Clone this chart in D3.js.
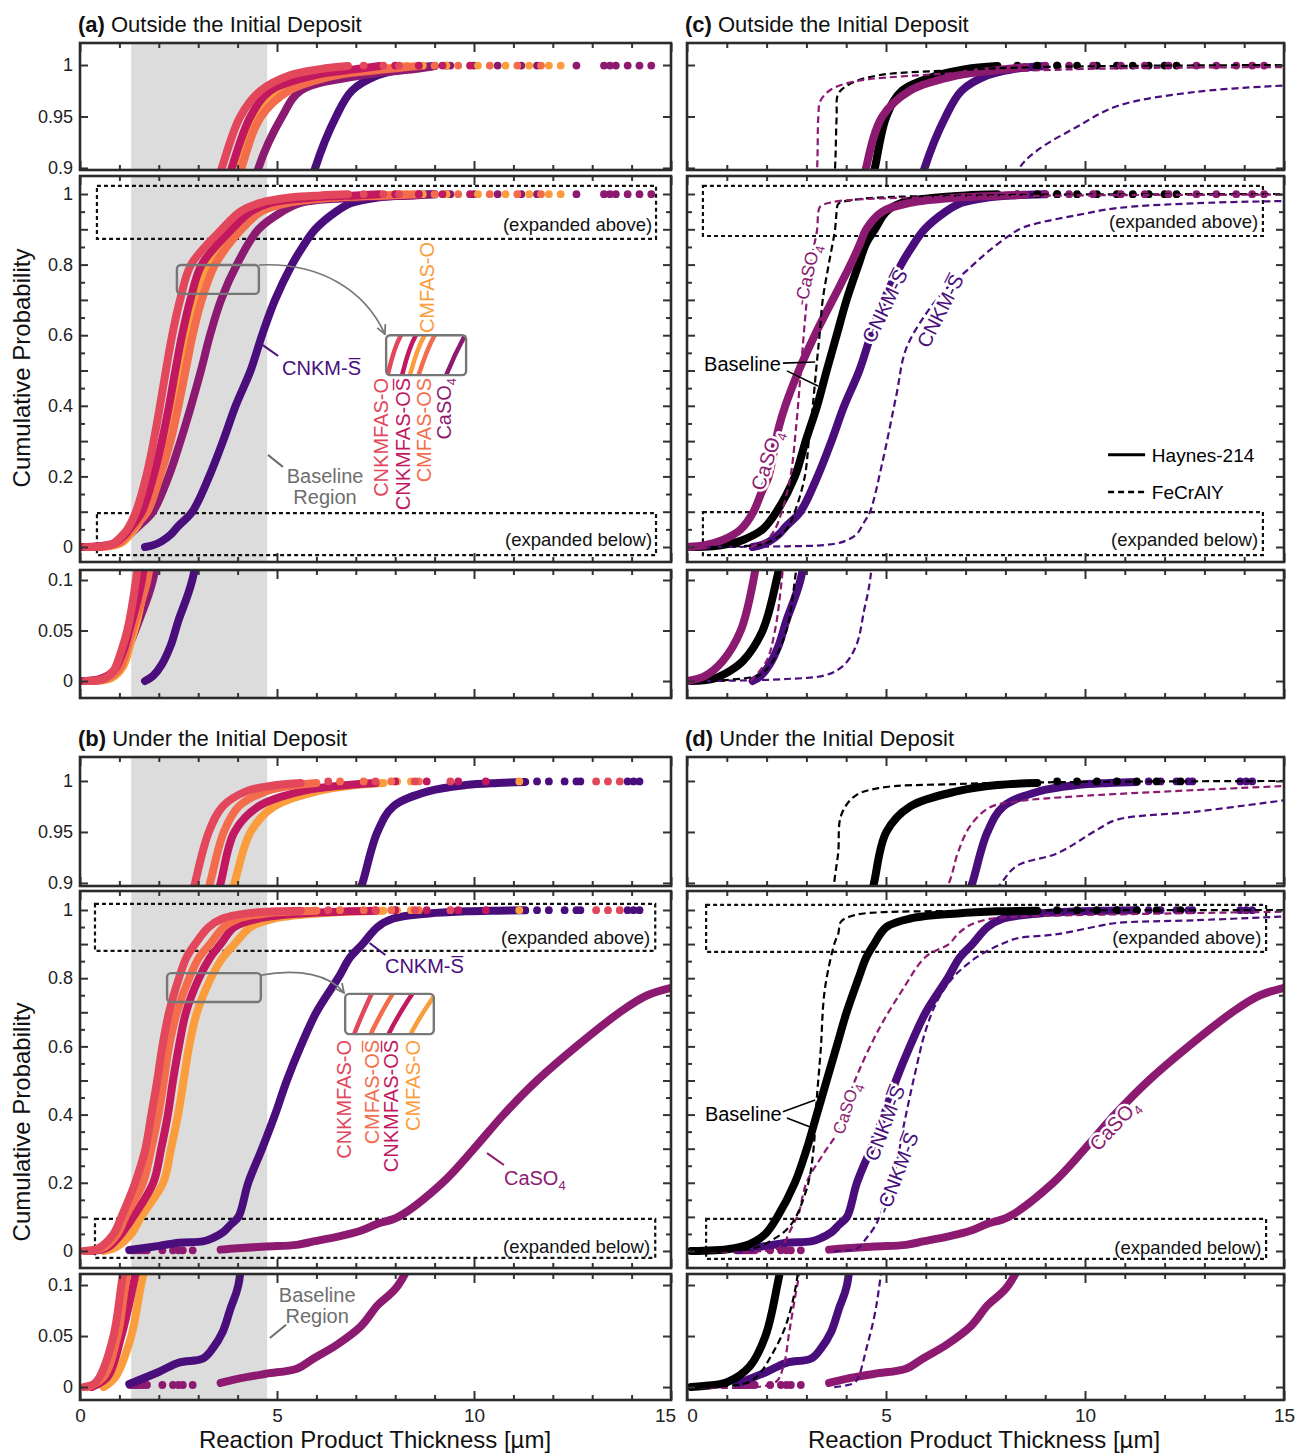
<!DOCTYPE html>
<html>
<head>
<meta charset="utf-8">
<script src="https://cdn.jsdelivr.net/npm/d3@7"></script>
<style>
  body { margin: 0; background: #fff; }
  svg text { font-family: "Liberation Sans", Arial, sans-serif; }
</style>
</head>
<body>
<svg id="chart" width="1295" height="1454"></svg>
<script>
// ---------- values ----------
// every curve is [thickness (µm), cumulative probability]
const xTicks = d3.range(0, 16);
const yTicksTop = [0.9, 0.95, 1];
const yTicksMid = d3.range(0, 21).map(i => i / 20);
const yLabelsMid = [0, 0.2, 0.4, 0.6, 0.8, 1];
const yTicksBot = [0, 0.05, 0.1];
const grayRegion = [1.3, 4.75];

// (a) outside the deposit
const aCNKMFAS_O = [[0.15,0],[0.6,0.002],[0.85,0.01],[1.05,0.03],[1.2,0.05],[1.42,0.1],[1.68,0.2],[1.87,0.3],[2.03,0.4],[2.18,0.5],[2.34,0.6],[2.54,0.7],[2.82,0.8],[3.6,0.9],[4.07,0.95],[4.58,0.975],[5.33,0.99],[6.1,0.996],[6.8,0.999]];
const aCNKMFAS_OTail = [7.2, 7.7, 8.1];
const aCNKMFAS_OS = [[0,0],[0.5,0.002],[0.85,0.01],[1.1,0.03],[1.25,0.05],[1.57,0.1],[1.86,0.2],[2.08,0.3],[2.26,0.4],[2.42,0.5],[2.59,0.6],[2.8,0.7],[3.09,0.8],[3.85,0.9],[4.33,0.95],[4.83,0.975],[5.94,0.99],[7.0,0.996],[7.6,0.999]];
const aCNKMFAS_OSTail = [8.0, 8.6, 9.2, 9.9];
const aCMFAS_O = [[0.4,0],[0.8,0.003],[1.1,0.015],[1.3,0.04],[1.45,0.06],[1.65,0.1],[1.95,0.2],[2.2,0.3],[2.4,0.4],[2.56,0.5],[2.73,0.6],[2.94,0.7],[3.25,0.8],[4.05,0.9],[4.53,0.95],[5.13,0.975],[6.35,0.99],[7.6,0.996],[8.3,0.999]];
const aCMFAS_OTail = [8.7, 9.3, 10.1, 10.8, 11.4, 11.9, 12.2];
const aCMFAS_OS = [[0.3,0],[0.7,0.003],[1.0,0.012],[1.25,0.04],[1.4,0.06],[1.71,0.1],[2.03,0.2],[2.3,0.3],[2.5,0.4],[2.68,0.5],[2.86,0.6],[3.09,0.7],[3.43,0.8],[4.1,0.9],[4.6,0.95],[5.3,0.975],[6.5,0.99],[7.8,0.996],[8.6,0.999]];
const aCMFAS_OSTail = [9.0, 9.6, 10.4, 11.1, 11.7];
const aCaSO4 = [[0.2,0],[0.6,0.002],[1.0,0.012],[1.3,0.04],[1.5,0.06],[1.85,0.1],[2.25,0.2],[2.55,0.3],[2.82,0.4],[3.07,0.5],[3.3,0.6],[3.58,0.7],[3.98,0.8],[4.53,0.9],[5.13,0.95],[5.6,0.975],[7.15,0.99],[8.5,0.996],[9.0,0.999]];
const aCaSO4Tail = [9.4, 10.0, 10.6, 11.2, 11.6, 12.6, 13.3, 13.45, 13.6, 13.9, 14.2, 14.5];
const outCNKM = [[1.65,0],[1.85,0.005],[2.07,0.016],[2.3,0.035],[2.49,0.059],[2.85,0.1],[3.28,0.2],[3.63,0.3],[3.95,0.4],[4.33,0.5],[4.62,0.6],[4.95,0.7],[5.38,0.8],[5.65,0.85],[5.97,0.9],[6.5,0.95],[6.9,0.975],[7.55,0.99],[8.2,0.996],[9.0,0.999]];
const outCNKMTail = [9.3];

// (c) outside the deposit, Haynes-214 (solid) vs FeCrAlY (dashed)
const cBaseline = [[0.1,0],[0.65,0.002],[1.08,0.01],[1.41,0.02],[1.9,0.05],[2.25,0.1],[2.71,0.2],[2.98,0.3],[3.27,0.4],[3.51,0.5],[3.76,0.6],[4.01,0.7],[4.31,0.8],[4.5,0.86],[4.72,0.9],[5.01,0.95],[5.4,0.975],[6.3,0.99],[7.0,0.996],[7.8,0.999]];
const cBaselineTail = [8.3, 8.8, 9.3, 9.8, 10.3, 10.8, 11.2, 11.6, 12.0, 12.3];
const cCaSO4 = [[0,0],[0.45,0.005],[0.9,0.02],[1.35,0.05],[1.67,0.1],[1.88,0.157],[2.05,0.2],[2.3,0.336],[2.47,0.4],[2.81,0.5],[3.21,0.6],[3.66,0.7],[4.11,0.8],[4.35,0.86],[4.5,0.9],[4.91,0.95],[5.6,0.975],[6.8,0.99],[7.8,0.995],[8.5,0.998]];
const cCaSO4Tail = [9.0, 9.6, 10.2, 10.9, 11.5, 12.1, 12.8, 13.3, 13.8, 14.2, 14.5];
const cBaselineFe = [[0.6,0],[1.5,0.003],[1.83,0.006],[2.16,0.02],[2.5,0.05],[2.71,0.1],[2.96,0.2],[3.06,0.3],[3.16,0.4],[3.26,0.52],[3.33,0.6],[3.41,0.7],[3.56,0.8],[3.72,0.9],[3.76,0.95],[3.8,0.972],[4.11,0.982],[4.81,0.99],[6.8,0.995],[8.8,0.998],[15,1.0]];
const cCaSO4Fe = [[1.6,0],[2.0,0.02],[2.21,0.05],[2.38,0.1],[2.6,0.2],[2.75,0.35],[2.86,0.5],[2.97,0.65],[3.1,0.8],[3.27,0.9],[3.3,0.95],[3.35,0.965],[3.61,0.976],[4.21,0.984],[5.8,0.99],[7.8,0.9935],[10.8,0.9968],[15,0.998]];
const cCNKMFe = [[0.5,0],[2.5,0.002],[3.5,0.006],[3.95,0.016],[4.26,0.036],[4.45,0.07],[4.6,0.1],[4.91,0.24],[5.26,0.43],[5.5,0.56],[6.0,0.66],[6.5,0.73],[7.0,0.78],[7.6,0.84],[8.35,0.9],[8.8,0.917],[9.8,0.94],[10.8,0.96],[12.8,0.974],[15,0.98]];

// (b) under the deposit
const bCNKMFAS_O = [[0.1,0],[0.35,0.003],[0.5,0.01],[0.85,0.05],[1.05,0.1],[1.4,0.2],[1.66,0.3],[1.81,0.4],[1.96,0.5],[2.09,0.6],[2.26,0.7],[2.51,0.8],[2.7,0.86],[2.92,0.9],[3.27,0.95],[3.62,0.975],[4.23,0.99],[5.0,0.996],[5.6,0.998]];
const bCNKMFAS_OTail = [6.3, 7.5, 8.5, 9.4, 13.1, 13.4, 13.7];
const bCMFAS_OS = [[0.2,0],[0.6,0.01],[0.95,0.05],[1.15,0.1],[1.6,0.2],[1.81,0.3],[1.99,0.4],[2.13,0.5],[2.26,0.6],[2.46,0.7],[2.77,0.8],[3.02,0.86],[3.3,0.9],[3.65,0.95],[4.03,0.975],[4.73,0.99],[5.5,0.996],[6.0,0.998]];
const bCMFAS_OSTail = [6.6, 7.2, 7.9, 8.6];
const bCNKMFAS_OS = [[0.3,0],[0.7,0.01],[1.05,0.05],[1.35,0.1],[1.86,0.2],[2.06,0.3],[2.23,0.4],[2.36,0.5],[2.51,0.6],[2.69,0.7],[3.02,0.8],[3.3,0.86],[3.57,0.9],[3.92,0.95],[4.53,0.975],[5.63,0.99],[6.8,0.996],[7.5,0.998]];
const bCNKMFAS_OSTail = [8.0, 8.8, 9.6, 10.3];
const bCMFAS_O = [[0.6,0],[0.9,0.01],[1.3,0.05],[1.55,0.1],[2.11,0.2],[2.31,0.3],[2.49,0.4],[2.63,0.5],[2.77,0.6],[2.97,0.7],[3.32,0.8],[3.62,0.86],[3.92,0.9],[4.33,0.95],[4.93,0.975],[6.04,0.99],[7.0,0.996],[7.7,0.998]];
const bCMFAS_OTail = [8.05, 8.4, 11.15];
const underCNKM = [[1.25,0.003],[2.01,0.015],[2.51,0.024],[3.12,0.028],[3.37,0.038],[3.62,0.054],[3.82,0.077],[4.02,0.1],[4.27,0.2],[4.62,0.3],[4.95,0.4],[5.25,0.5],[5.6,0.6],[6.0,0.7],[6.55,0.8],[6.85,0.86],[7.17,0.9],[7.55,0.95],[7.95,0.975],[8.86,0.99],[9.8,0.996],[10.6,0.998],[11.3,0.999]];
const underCNKMTail = [11.6, 11.9, 12.3, 12.6, 12.7, 13.9, 14.05, 14.2];
const underCaSO4 = [[3.57,0.004],[4.0,0.008],[4.72,0.013],[5.5,0.018],[5.93,0.028],[6.54,0.042],[7.14,0.06],[7.55,0.08],[8.08,0.1],[9.2,0.2],[10.0,0.3],[10.75,0.4],[11.6,0.5],[12.6,0.6],[13.7,0.7],[14.4,0.75],[15.3,0.78]];
const underCaSO4Low = [1.27, 1.33, 1.4, 1.47, 1.54, 1.62, 1.7, 2.09, 2.36, 2.5, 2.61, 2.86];

// (d) under the deposit, Haynes-214 (solid) vs FeCrAlY (dashed)
const dBaseline = [[0.1,0],[0.42,0.001],[1.02,0.005],[1.57,0.02],[1.97,0.05],[2.27,0.1],[2.71,0.2],[3.01,0.3],[3.26,0.4],[3.51,0.5],[3.76,0.6],[4.01,0.7],[4.31,0.8],[4.5,0.86],[4.7,0.9],[5.01,0.95],[5.61,0.975],[6.8,0.99],[7.8,0.996],[8.8,0.998]];
const dBaselineTail = [9.3, 9.8, 10.3, 10.8, 11.3, 11.8, 12.4];
const dBaselineFe = [[0.3,0],[1.5,0.004],[1.82,0.013],[2.12,0.031],[2.42,0.054],[2.61,0.077],[2.76,0.105],[3.05,0.2],[3.18,0.3],[3.25,0.43],[3.36,0.59],[3.46,0.765],[3.7,0.9],[3.8,0.93],[3.87,0.966],[4.21,0.985],[4.81,0.993],[6.8,0.997],[9.8,0.999],[15,1.0]];
const dCaSO4Fe = [[0.3,0],[2.2,0.004],[2.42,0.02],[2.57,0.054],[2.71,0.087],[2.8,0.107],[3.0,0.2],[3.4,0.28],[3.81,0.355],[4.21,0.497],[4.81,0.648],[5.41,0.765],[6.0,0.863],[6.58,0.9],[6.8,0.929],[7.1,0.955],[7.6,0.974],[8.3,0.98],[9.8,0.985],[15,0.995]];
const dCNKMFe = [[3.7,0],[4.2,0.004],[4.31,0.01],[4.51,0.038],[4.71,0.07],[4.86,0.107],[5.21,0.228],[5.45,0.37],[5.71,0.511],[6.0,0.648],[6.3,0.736],[6.7,0.804],[7.3,0.863],[7.9,0.9],[8.3,0.917],[9.3,0.929],[10.3,0.952],[10.8,0.962],[12.8,0.97],[15,0.981]];

// ---------- colours ----------
const cRed = "#e2475b", cCrimson = "#c2185f", cCoral = "#f36d4d", cOrange = "#fb9d3c";
const cCa = "#8c1a70", cCNKM = "#4a0e7c", cBlack = "#000", cGrey = "#6e6e6e";

// ---------- layout ----------
const colL = [80, 671], colR = [687, 1284];
const rowsUpper = { top: [43, 170], mid: [176, 562], bot: [570, 698] };
const rowsLower = { top: [757, 886], mid: [891, 1268], bot: [1274, 1400] };
const domUpper = { top: [0.898, 1.0214], mid: [-0.0425, 1.051], bot: [-0.0168, 0.1099] };
const domLower = { top: [0.897, 1.0235], mid: [-0.0499, 1.0557], bot: [-0.0127, 0.1108] };
const fmt = d3.format("~g");

const svg = d3.select("#chart");
const defs = svg.append("defs");
defs.append("marker").attr("id", "arrowhead").attr("viewBox", "0 0 10 10")
    .attr("refX", 9).attr("refY", 5).attr("markerWidth", 7).attr("markerHeight", 7).attr("orient", "auto")
  .append("path").attr("d", "M1,1 L9,5 L1,9").attr("fill", "none").attr("stroke", "#777").attr("stroke-width", 1.6);

const panels = [
  { id: "a", col: colL, rows: rowsUpper, dom: domUpper, title: " Outside the Initial Deposit", gray: true, left: true,
    above: [0.43, 14.62, 0.873, 1.023], below: [0.43, 14.62, -0.023, 0.096], aboveP: 0.895, belowP: 0.003, textT: 14.52,
    solid: [
      { pts: outCNKM, tail: outCNKMTail, color: cCNKM },
      { pts: aCaSO4, tail: aCaSO4Tail, color: cCa },
      { pts: aCMFAS_O, tail: aCMFAS_OTail, color: cOrange },
      { pts: aCMFAS_OS, tail: aCMFAS_OSTail, color: cCoral },
      { pts: aCNKMFAS_OS, tail: aCNKMFAS_OSTail, color: cCrimson },
      { pts: aCNKMFAS_O, tail: aCNKMFAS_OTail, color: cRed }
    ], dashed: [] },
  { id: "c", col: colR, rows: rowsUpper, dom: domUpper, title: " Outside the Initial Deposit", gray: false, left: false,
    above: [0.4, 14.47, 0.881, 1.023], below: [0.4, 14.47, -0.023, 0.099], aboveP: 0.904, belowP: 0.003, textT: 14.35,
    solid: [
      { pts: outCNKM, tail: outCNKMTail, color: cCNKM },
      { pts: cBaseline, tail: cBaselineTail, color: cBlack },
      { pts: cCaSO4, tail: cCaSO4Tail, color: cCa }
    ],
    dashed: [
      { pts: cCNKMFe, color: cCNKM },
      { pts: cBaselineFe, color: cBlack },
      { pts: cCaSO4Fe, color: cCa }
    ] },
  { id: "b", col: colL, rows: rowsLower, dom: domLower, title: " Under the Initial Deposit", gray: true, left: true, xLab: true,
    above: [0.38, 14.6, 0.88, 1.018], below: [0.38, 14.6, -0.02, 0.094], aboveP: 0.9, belowP: -0.006, textT: 14.47,
    solid: [
      { pts: underCaSO4, low: underCaSO4Low, color: cCa },
      { pts: underCNKM, tail: underCNKMTail, color: cCNKM },
      { pts: bCMFAS_O, tail: bCMFAS_OTail, color: cOrange },
      { pts: bCNKMFAS_OS, tail: bCNKMFAS_OSTail, color: cCrimson },
      { pts: bCMFAS_OS, tail: bCMFAS_OSTail, color: cCoral },
      { pts: bCNKMFAS_O, tail: bCNKMFAS_OTail, color: cRed }
    ], dashed: [] },
  { id: "d", col: colR, rows: rowsLower, dom: domLower, title: " Under the Initial Deposit", gray: false, left: false, xLab: true,
    above: [0.48, 14.55, 0.877, 1.015], below: [0.48, 14.55, -0.023, 0.094], aboveP: 0.9, belowP: -0.009, textT: 14.43,
    solid: [
      { pts: underCaSO4, low: underCaSO4Low, color: cCa },
      { pts: underCNKM, tail: underCNKMTail, color: cCNKM },
      { pts: dBaseline, tail: dBaselineTail, color: cBlack }
    ],
    dashed: [
      { pts: dCNKMFe, color: cCNKM },
      { pts: dCaSO4Fe, color: cCa },
      { pts: dBaselineFe, color: cBlack }
    ] }
];

function drawCurves(layer, x, y, list, dashed, width) {
  const line = d3.line().x(d => x(d[0])).y(d => y(d[1])).curve(d3.curveCatmullRom.alpha(0.5));
  list.forEach(s => {
    layer.append("path").datum(s.pts)
      .attr("fill", "none")
      .attr("stroke", s.color)
      .attr("stroke-width", dashed ? 2.2 : width)
      .attr("stroke-dasharray", dashed ? "7,4" : null)
      .attr("stroke-linecap", dashed ? "butt" : "round")
      .attr("stroke-linejoin", "round")
      .attr("d", line);
    layer.selectAll(null).data(s.tail || []).enter().append("circle")
      .attr("cx", d => x(d)).attr("cy", y(0.9995)).attr("r", 3.9).attr("fill", s.color);
    layer.selectAll(null).data(s.low || []).enter().append("circle")
      .attr("cx", d => x(d)).attr("cy", y(0.002)).attr("r", 3.9).attr("fill", s.color);
  });
}

function drawAxes(x, y, yr, col, major, minor, labelFn, xLabels, isLeft) {
  const g = svg.append("g").attr("color", "#222");
  const add = (axis, tx, ty) => g.append("g")
      .attr("transform", `translate(${tx},${ty})`)
      .call(axis)
      .call(s => s.select(".domain").remove())
      .call(s => s.selectAll("line").attr("stroke", "#333").attr("stroke-width", 2))
      .attr("font-family", '"Liberation Sans", Arial, sans-serif');
  const xMinor = xTicks.filter(t => t % 5 !== 0), xMajor = xTicks.filter(t => t % 5 === 0);
  add(d3.axisBottom(x).tickValues(xMinor).tickSize(-5).tickFormat(""), 0, yr[1]);
  const xb = add(d3.axisBottom(x).tickValues(xMajor).tickSize(-9).tickPadding(9)
      .tickFormat(xLabels ? d3.format("d") : ""), 0, yr[1]).attr("font-size", 19);
  // keep "15" (left) and "0" (right) apart where the columns meet
  xb.selectAll("text").attr("dx", d => (isLeft && d === 15) ? -6 : (!isLeft && d === 0) ? 5 : 0);
  add(d3.axisTop(x).tickValues(xMinor).tickSize(-5).tickFormat(""), 0, yr[0]);
  add(d3.axisTop(x).tickValues(xMajor).tickSize(-9).tickFormat(""), 0, yr[0]);
  if (minor.length) {
    add(d3.axisLeft(y).tickValues(minor).tickSize(-5).tickFormat(""), col[0], 0);
    add(d3.axisRight(y).tickValues(minor).tickSize(-5).tickFormat(""), col[1], 0);
  }
  add(d3.axisLeft(y).tickValues(major).tickSize(-8).tickPadding(7).tickFormat(labelFn), col[0], 0).attr("font-size", 18);
  add(d3.axisRight(y).tickValues(major).tickSize(-8).tickFormat(""), col[1], 0);
  svg.append("rect")
    .attr("x", col[0]).attr("y", yr[0]).attr("width", col[1] - col[0]).attr("height", yr[1] - yr[0])
    .attr("fill", "none").attr("stroke", "#2b2b2b").attr("stroke-width", 2.6);
}

const scales = {};
panels.forEach(P => {
  scales[P.id] = {};
  ["top", "mid", "bot"].forEach(k => {
    const yr = P.rows[k];
    const x = d3.scaleLinear().domain([0, 15]).range(P.col);
    const y = d3.scaleLinear().domain(P.dom[k]).range([yr[1], yr[0]]);
    scales[P.id][k] = { x, y };
    const cid = `clip-${P.id}-${k}`;
    defs.append("clipPath").attr("id", cid).append("rect")
      .attr("x", P.col[0]).attr("y", yr[0]).attr("width", P.col[1] - P.col[0]).attr("height", yr[1] - yr[0]);
    const layer = svg.append("g").attr("clip-path", `url(#${cid})`);

    if (P.gray) {
      layer.append("rect")
        .attr("x", x(grayRegion[0])).attr("y", yr[0])
        .attr("width", x(grayRegion[1]) - x(grayRegion[0])).attr("height", yr[1] - yr[0])
        .attr("fill", "#dcdcdc");
    }
    if (k === "mid") {
      [P.above, P.below].forEach(b => {
        layer.append("rect")
          .attr("x", x(b[0])).attr("y", y(b[3])).attr("width", x(b[1]) - x(b[0])).attr("height", y(b[2]) - y(b[3]))
          .attr("fill", "none").attr("stroke", "#111").attr("stroke-width", 2.2).attr("stroke-dasharray", "4,3");
      });
    }
    drawCurves(layer, x, y, P.solid, false, 8);
    drawCurves(layer, x, y, P.dashed, true);

    let major, minor, labels;
    if (k === "top") { major = yTicksTop; minor = []; labels = yTicksTop; }
    else if (k === "mid") {
      major = yTicksMid.filter((v, i) => i % 2 === 0);
      minor = yTicksMid.filter((v, i) => i % 2 === 1);
      labels = yLabelsMid;
    } else { major = yTicksBot; minor = []; labels = yTicksBot; }
    const labelFn = P.left ? (d => labels.includes(d) ? fmt(d) : "") : "";
    drawAxes(x, y, yr, P.col, major, minor, labelFn, P.xLab && k === "bot", P.left);

    if (k === "mid") {
      svg.append("text").attr("x", x(P.textT)).attr("y", y(P.aboveP))
        .attr("text-anchor", "end").attr("font-size", 18.5).attr("fill", "#111").text("(expanded above)");
      svg.append("text").attr("x", x(P.textT)).attr("y", y(P.belowP))
        .attr("text-anchor", "end").attr("font-size", 18.5).attr("fill", "#111").text("(expanded below)");
    }
  });

  // panel title
  const t = svg.append("text").attr("x", P.col[0] - 2).attr("y", P.rows.top[0] - 11)
    .attr("font-size", 22).attr("fill", "#111");
  t.append("tspan").attr("font-weight", "bold").text(`(${P.id})`);
  t.append("tspan").text(P.title);
});

// axis titles
[368, 1122].forEach(cy => {
  svg.append("text").attr("transform", `translate(30,${cy}) rotate(-90)`)
    .attr("text-anchor", "middle").attr("font-size", 24).attr("fill", "#111").text("Cumulative Probability");
});
[375, 984].forEach(cx => {
  svg.append("text").attr("x", cx).attr("y", 1448)
    .attr("text-anchor", "middle").attr("font-size", 24).attr("fill", "#111").text("Reaction Product Thickness [µm]");
});

// ---------- annotations ----------
function textAt(sc, t, p, str, color, opts = {}) {
  const el = svg.append("text").attr("x", sc.x(t)).attr("y", sc.y(p))
    .attr("font-size", opts.size || 20).attr("fill", color)
    .attr("text-anchor", opts.anchor || "start").text(str);
  if (opts.sub) el.append("tspan").attr("dy", 5).attr("font-size", 13).text(opts.sub);
  return el;
}
function leader(sc, a, b, color, w) {
  svg.append("line")
    .attr("x1", sc.x(a[0])).attr("y1", sc.y(a[1])).attr("x2", sc.x(b[0])).attr("y2", sc.y(b[1]))
    .attr("stroke", color).attr("stroke-width", w || 2);
}
function rotLabel(sc, t, p, angle, str, sub, color, size) {
  const el = svg.append("text")
    .attr("transform", `translate(${sc.x(t)},${sc.y(p)}) rotate(${angle})`)
    .attr("text-anchor", "middle").attr("dy", "0.35em")
    .attr("font-size", size || 20).attr("fill", color)
    .attr("stroke", "#fff").attr("stroke-width", 5).attr("stroke-linejoin", "round").attr("paint-order", "stroke")
    .text(str);
  if (sub) el.append("tspan").attr("dy", 5).attr("font-size", 13).text(sub);
}
function vertLabel(sc, t, p, anchor, str, sub, color) {
  const el = svg.append("text")
    .attr("transform", `translate(${sc.x(t)},${sc.y(p)}) rotate(-90)`)
    .attr("text-anchor", anchor).attr("font-size", 20).attr("fill", color).text(str);
  if (sub) el.append("tspan").attr("dy", 5).attr("font-size", 13).text(sub);
}
function inset(sc, id, hl, target, dom, arrow, list) {
  const { x, y } = sc;
  svg.append("rect")
    .attr("x", x(hl[0])).attr("y", y(hl[3])).attr("width", x(hl[1]) - x(hl[0])).attr("height", y(hl[2]) - y(hl[3]))
    .attr("rx", 4).attr("fill", "none").attr("stroke", "#777").attr("stroke-width", 2.4);
  const a = arrow.map(d => [x(d[0]), y(d[1])]);
  svg.append("path").attr("d", `M${a[0]} C${a[1]} ${a[2]} ${a[3]}`)
    .attr("fill", "none").attr("stroke", "#777").attr("stroke-width", 1.6).attr("marker-end", "url(#arrowhead)");
  const box = [x(target[0]), y(target[3]), x(target[1]) - x(target[0]), y(target[2]) - y(target[3])];
  const ix = d3.scaleLinear().domain([dom[0], dom[1]]).range([box[0], box[0] + box[2]]);
  const iy = d3.scaleLinear().domain([dom[2], dom[3]]).range([box[1] + box[3], box[1]]);
  defs.append("clipPath").attr("id", id).append("rect")
    .attr("x", box[0]).attr("y", box[1]).attr("width", box[2]).attr("height", box[3]);
  svg.append("rect").attr("x", box[0]).attr("y", box[1]).attr("width", box[2]).attr("height", box[3]).attr("fill", "#fff");
  const g = svg.append("g").attr("clip-path", `url(#${id})`);
  drawCurves(g, ix, iy, list.map(s => ({ pts: s.pts, color: s.color })), false, 4.5);
  svg.append("rect").attr("x", box[0]).attr("y", box[1]).attr("width", box[2]).attr("height", box[3])
    .attr("rx", 4).attr("fill", "none").attr("stroke", "#777").attr("stroke-width", 2.4);
}

// (a)
(function () {
  const sc = scales.a.mid;
  inset(sc, "inset-a", [2.46, 4.54, 0.717, 0.799], [7.77, 9.8, 0.487, 0.6], [2.55, 4.0, 0.717, 0.8],
    [[4.54, 0.799], [6.09, 0.807], [7.23, 0.728], [7.74, 0.603]], panels[0].solid.slice(1));
  vertLabel(sc, 7.82, 0.479, "end", "CNKMFAS-O", null, cRed);
  vertLabel(sc, 8.38, 0.479, "end", "CNKMFAS-OS\u0305", null, cCrimson);
  vertLabel(sc, 8.91, 0.479, "end", "CMFAS-OS", null, cCoral);
  vertLabel(sc, 9.42, 0.479, "end", "CaSO", "4", cCa);
  vertLabel(sc, 8.98, 0.606, "start", "CMFAS-O", null, cOrange);
  textAt(sc, 5.13, 0.487, "CNKM-S\u0305", cCNKM);
  leader(sc, [4.64, 0.572], [5.03, 0.541], cCNKM);
  textAt(sc, 6.22, 0.181, "Baseline", cGrey, { anchor: "middle" });
  textAt(sc, 6.22, 0.122, "Region", cGrey, { anchor: "middle" });
  leader(sc, [4.77, 0.261], [5.15, 0.227], cGrey);
})();

// (b)
(function () {
  const sc = scales.b.mid;
  inset(sc, "inset-b", [2.21, 4.59, 0.73, 0.815], [6.73, 8.98, 0.636, 0.754], [2.21, 3.36, 0.73, 0.815],
    [[4.59, 0.809], [5.58, 0.83], [6.35, 0.809], [6.7, 0.757]], panels[2].solid.slice(2));
  vertLabel(sc, 6.88, 0.619, "end", "CNKMFAS-O", null, cRed);
  vertLabel(sc, 7.58, 0.619, "end", "CMFAS-OS\u0305", null, cCoral);
  vertLabel(sc, 8.07, 0.619, "end", "CNKMFAS-OS\u0305", null, cCrimson);
  vertLabel(sc, 8.62, 0.619, "end", "CMFAS-O", null, cOrange);
  textAt(sc, 7.74, 0.815, "CNKM-S\u0305", cCNKM);
  leader(sc, [7.35, 0.903], [7.75, 0.868], cCNKM);
  textAt(sc, 10.76, 0.194, "CaSO", cCa, { sub: "4" });
  leader(sc, [10.33, 0.287], [10.76, 0.252], cCa);
  const sb = scales.b.bot;
  textAt(sb, 6.02, 0.083, "Baseline", cGrey, { anchor: "middle" });
  textAt(sb, 6.02, 0.063, "Region", cGrey, { anchor: "middle" });
  leader(sb, [5.23, 0.061], [4.82, 0.048], cGrey);
})();

// (c)
(function () {
  const sc = scales.c.mid;
  rotLabel(sc, 2.0, 0.246, -72, "CaSO", "4", cCa);
  rotLabel(sc, 3.02, 0.771, -77, "-CaSO", "4", cCa, 18);
  rotLabel(sc, 4.97, 0.683, -64, "CNKM-S\u0305", null, cCNKM);
  rotLabel(sc, 6.36, 0.669, -63, "CNKM-S\u0305", null, cCNKM);
  textAt(sc, 0.43, 0.499, "Baseline", cBlack);
  leader(sc, [2.41, 0.521], [3.22, 0.524], cBlack, 1.6);
  leader(sc, [2.51, 0.499], [3.29, 0.456], cBlack, 1.6);
  // legend
  leader(sc, [10.58, 0.261], [11.51, 0.261], cBlack, 3);
  svg.append("line")
    .attr("x1", sc.x(10.58)).attr("x2", sc.x(11.51)).attr("y1", sc.y(0.156)).attr("y2", sc.y(0.156))
    .attr("stroke", cBlack).attr("stroke-width", 2.4).attr("stroke-dasharray", "6,4");
  textAt(sc, 11.68, 0.261, "Haynes-214", cBlack, { size: 19 }).attr("dy", "0.35em");
  textAt(sc, 11.68, 0.156, "FeCrAlY", cBlack, { size: 19 }).attr("dy", "0.35em");
})();

// (d)
(function () {
  const sc = scales.d.mid;
  rotLabel(sc, 4.0, 0.419, -72, "CaSO", "4", cCa, 17);
  rotLabel(sc, 4.97, 0.375, -69, "CNKM-S\u0305", null, cCNKM);
  rotLabel(sc, 5.28, 0.229, -69, "-CNKM-S\u0305", null, cCNKM);
  rotLabel(sc, 10.73, 0.37, -47, "CaSO", "4", cCa);
  textAt(sc, 0.45, 0.381, "Baseline", cBlack);
  leader(sc, [2.41, 0.408], [3.22, 0.443], cBlack, 1.6);
  leader(sc, [2.51, 0.39], [3.16, 0.361], cBlack, 1.6);
})();
</script>
</body>
</html>
